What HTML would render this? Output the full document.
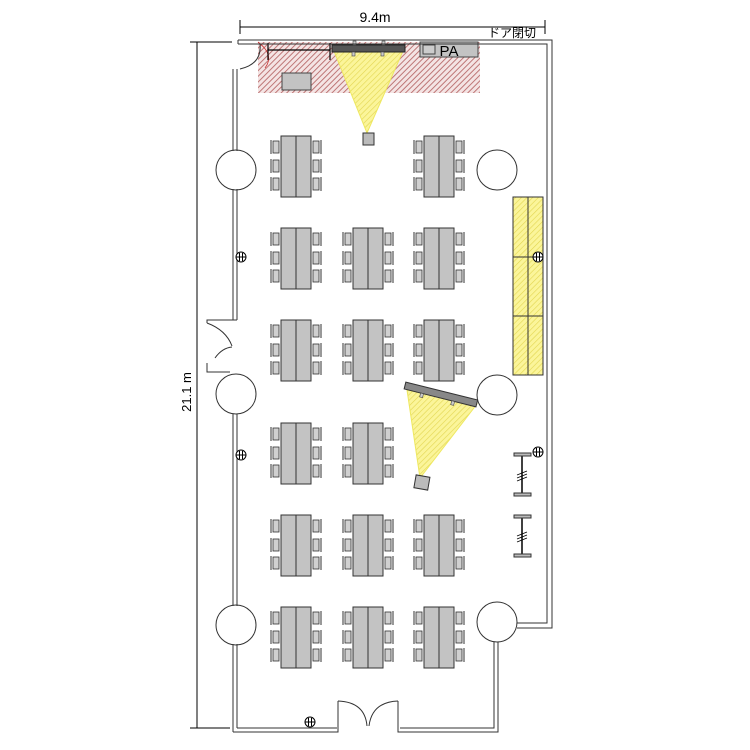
<!DOCTYPE html>
<html><head><meta charset="utf-8"><style>html,body{margin:0;padding:0;background:#fff}svg{display:block}</style></head>
<body>
<svg width="750" height="750" viewBox="0 0 750 750" xmlns="http://www.w3.org/2000/svg" font-family="'Liberation Sans','Noto Sans CJK JP',sans-serif">
<defs>
<pattern id="red" width="4" height="4" patternUnits="userSpaceOnUse" patternTransform="rotate(45)">
<rect width="4" height="4" fill="#f4e4e4"/><line x1="0" y1="0" x2="0" y2="4" stroke="#b86a6a" stroke-width="1.8"/></pattern>
<pattern id="yel" width="4" height="4" patternUnits="userSpaceOnUse" patternTransform="rotate(45)">
<rect width="4" height="4" fill="#fbf59a"/><line x1="0" y1="0" x2="0" y2="4" stroke="#e2d650" stroke-width="1.2"/></pattern>
<g id="tb">
<rect x="0" y="0" width="30" height="61" fill="#c3c3c3" stroke="#333" stroke-width="1"/>
<line x1="15" y1="0" x2="15" y2="61" stroke="#333"/>
<g fill="#d0d0d0" stroke="#333" stroke-width="0.8">
<rect x="-8" y="5" width="6" height="12"/><rect x="-8" y="24" width="6" height="12"/><rect x="-8" y="42" width="6" height="12"/>
<rect x="32" y="5" width="6" height="12"/><rect x="32" y="24" width="6" height="12"/><rect x="32" y="42" width="6" height="12"/>
</g>
<g stroke="#333" stroke-width="1">
<line x1="-10" y1="4" x2="-10" y2="18"/><line x1="-10" y1="23" x2="-10" y2="37"/><line x1="-10" y1="41" x2="-10" y2="55"/>
<line x1="40" y1="4" x2="40" y2="18"/><line x1="40" y1="23" x2="40" y2="37"/><line x1="40" y1="41" x2="40" y2="55"/>
</g>
</g>
<g id="out"><circle r="5" fill="#fff" stroke="#000"/><line x1="-5" y1="0" x2="5" y2="0" stroke="#000"/><line x1="-1.5" y1="-4" x2="-1.5" y2="4" stroke="#000"/><line x1="1.5" y1="-4" x2="1.5" y2="4" stroke="#000"/></g>
</defs>

<g stroke="#000" stroke-width="1" fill="none">
<line x1="240" y1="27" x2="545" y2="27"/><line x1="240" y1="20" x2="240" y2="34"/><line x1="545" y1="20" x2="545" y2="34"/>
<line x1="197" y1="42" x2="197" y2="728"/><line x1="190" y1="42" x2="232" y2="42"/><line x1="190" y1="728" x2="230" y2="728"/>
</g>
<text x="375" y="22" font-size="14" text-anchor="middle">9.4m</text>
<text x="512" y="37" font-size="12" text-anchor="middle">ドア閉切</text>
<text transform="translate(191,392) rotate(-90)" font-size="13" text-anchor="middle">21.1 m</text>

<rect x="258" y="42" width="222" height="51" fill="url(#red)"/>
<path d="M258 42 Q275 55 265 68" fill="none" stroke="#c33" stroke-width="0.8"/>
<polygon points="334,51 403,51 367,133" fill="url(#yel)" stroke="#eee860" stroke-width="1"/>
<rect x="332" y="45" width="73" height="7" fill="#555" stroke="#222"/>
<rect x="352" y="52" width="3" height="4" fill="#ccc" stroke="#444" stroke-width="0.6"/><rect x="381" y="52" width="3" height="4" fill="#ccc" stroke="#444" stroke-width="0.6"/>
<rect x="353" y="41" width="3" height="4" fill="#ccc" stroke="#444" stroke-width="0.6"/><rect x="382" y="41" width="3" height="4" fill="#ccc" stroke="#444" stroke-width="0.6"/>
<rect x="363" y="133" width="11" height="12" fill="#bbb" stroke="#333"/>
<g stroke="#000" stroke-width="1.2"><line x1="268" y1="50" x2="330" y2="50"/><line x1="268" y1="43" x2="268" y2="60"/><line x1="330" y1="43" x2="330" y2="60"/></g>
<rect x="420" y="42" width="58" height="15" fill="#c3c3c3" stroke="#444"/>
<rect x="423" y="45" width="12" height="9" fill="#ccc" stroke="#444"/>
<text x="449" y="56" font-size="15" text-anchor="middle">PA</text>
<rect x="282" y="73" width="29" height="17" fill="#c3c3c3" stroke="#444"/>

<g fill="none" stroke="#333" stroke-width="1">
<polyline points="238,40 552,40 552,628 517,628"/>
<polyline points="238,44 547,44 547,623 517,623"/>
<line x1="238" y1="40" x2="238" y2="44"/>
<path d="M260 44 Q262 64 240 69"/>
<line x1="233" y1="69" x2="233" y2="151"/><line x1="237" y1="69" x2="237" y2="151"/>
<line x1="233" y1="189" x2="233" y2="320"/><line x1="237" y1="189" x2="237" y2="320"/>
<polyline points="237,320 207,320 207,323"/>
<path d="M207 323 Q226 330 232 346"/>
<path d="M215 358 Q222 348 232 347"/>
<polyline points="207,363 207,372 230,372"/>
<line x1="233" y1="414" x2="233" y2="606"/><line x1="237" y1="414" x2="237" y2="606"/>
<line x1="233" y1="644" x2="233" y2="732"/><line x1="237" y1="644" x2="237" y2="728"/>
<polyline points="233,732 338,732 338,701"/><polyline points="237,728 337,728"/>
<path d="M338 701 Q365 702 367 726"/><path d="M398 701 Q372 702 369 726"/>
<polyline points="398,701 398,732 498,732 498,642"/><polyline points="400,728 494,728 494,642"/>
<circle cx="236" cy="170" r="20"/><circle cx="236" cy="394" r="20"/><circle cx="236" cy="625" r="20"/>
<circle cx="497" cy="170" r="20"/><circle cx="497" cy="395" r="20"/><circle cx="497" cy="622" r="20"/>
</g>

<rect x="513" y="197" width="30" height="178" fill="url(#yel)" stroke="#333"/>
<g stroke="#333"><line x1="528" y1="197" x2="528" y2="375"/><line x1="513" y1="257" x2="543" y2="257"/><line x1="513" y1="316" x2="543" y2="316"/></g>

<polygon points="407,390 477,404 420,478" fill="url(#yel)" stroke="#eee860"/>
<g transform="translate(441,394) rotate(14)"><rect x="-37" y="-3" width="74" height="7" fill="#888" stroke="#333"/>
<rect x="-20" y="4" width="3" height="4" fill="#ccc" stroke="#444" stroke-width="0.6"/><rect x="12" y="4" width="3" height="4" fill="#ccc" stroke="#444" stroke-width="0.6"/></g>
<g transform="translate(422,482) rotate(10)"><rect x="-7" y="-6" width="14" height="13" fill="#bbb" stroke="#333"/></g>

<g stroke="#000" stroke-width="1.5">
<line x1="522" y1="455" x2="522" y2="495"/><line x1="522" y1="517" x2="522" y2="556"/>
</g>
<g fill="#bbb" stroke="#333"><rect x="514" y="453" width="17" height="3"/><rect x="514" y="493" width="17" height="3"/>
<rect x="514" y="515" width="17" height="3"/><rect x="514" y="554" width="17" height="3"/></g>
<g stroke="#000" stroke-width="0.8"><line x1="517" y1="475" x2="527" y2="471"/><line x1="517" y1="478" x2="527" y2="474"/><line x1="517" y1="481" x2="527" y2="477"/>
<line x1="517" y1="536" x2="527" y2="532"/><line x1="517" y1="539" x2="527" y2="535"/><line x1="517" y1="542" x2="527" y2="538"/></g>

<use href="#out" x="241" y="257"/><use href="#out" x="241" y="455"/><use href="#out" x="538" y="257"/><use href="#out" x="538" y="452"/><use href="#out" x="310" y="722"/>

<use href="#tb" x="281" y="136"/><use href="#tb" x="424" y="136"/>
<use href="#tb" x="281" y="228"/><use href="#tb" x="353" y="228"/><use href="#tb" x="424" y="228"/>
<use href="#tb" x="281" y="320"/><use href="#tb" x="353" y="320"/><use href="#tb" x="424" y="320"/>
<use href="#tb" x="281" y="423"/><use href="#tb" x="353" y="423"/>
<use href="#tb" x="281" y="515"/><use href="#tb" x="353" y="515"/><use href="#tb" x="424" y="515"/>
<use href="#tb" x="281" y="607"/><use href="#tb" x="353" y="607"/><use href="#tb" x="424" y="607"/>
</svg>
</body></html>
